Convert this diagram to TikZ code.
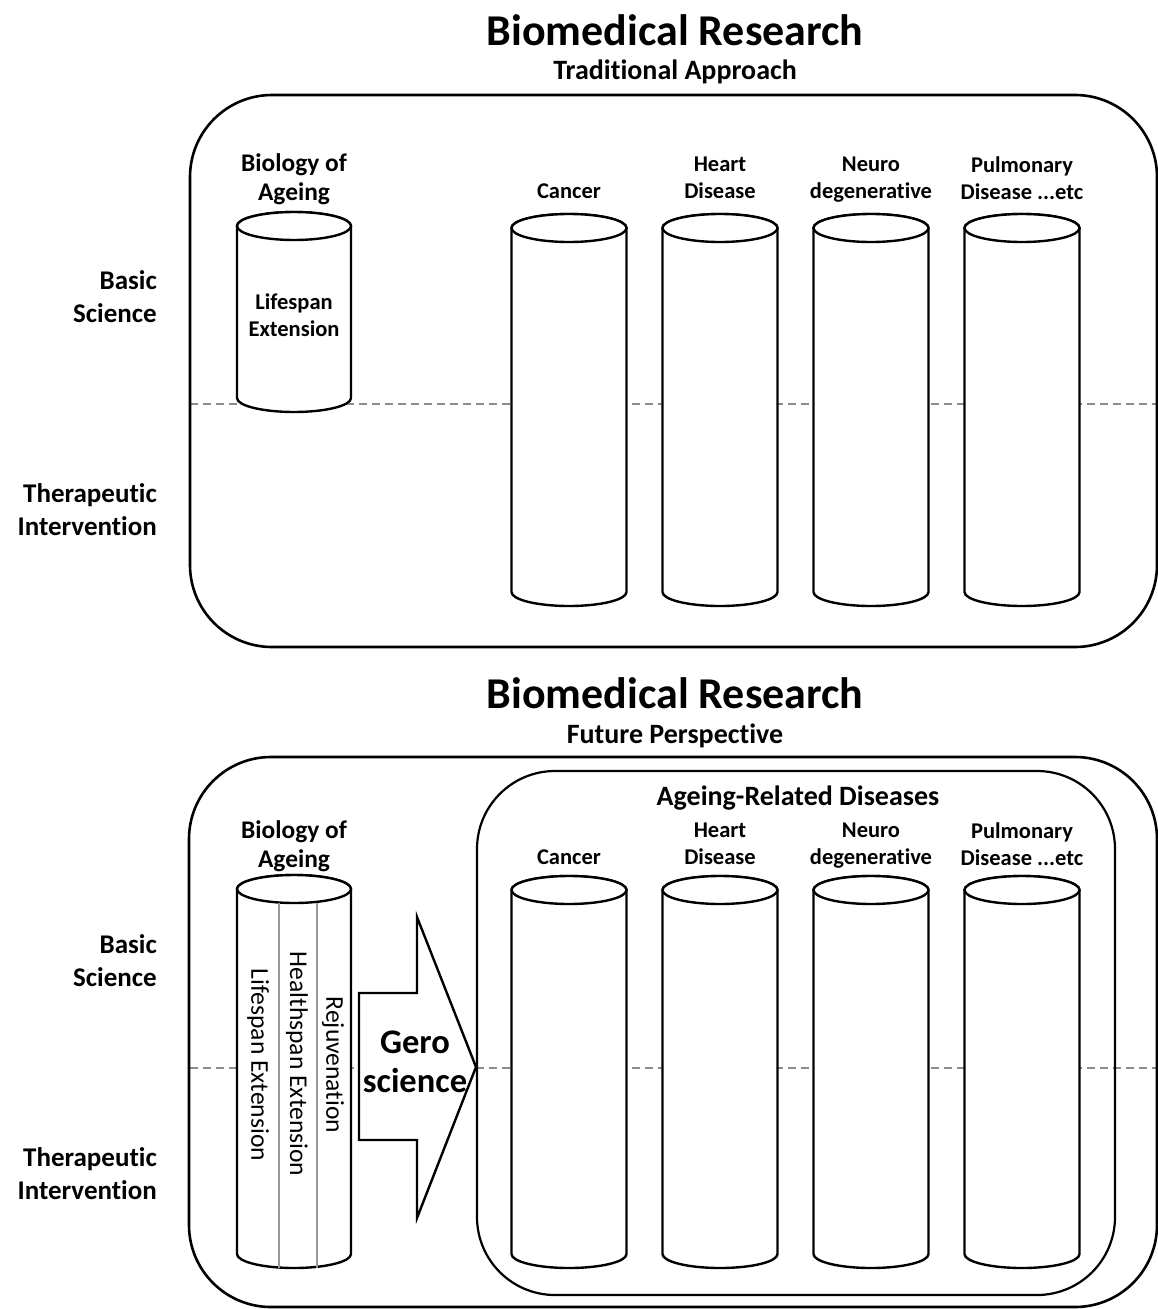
\documentclass[tikz,border=0pt]{standalone}
\usepackage{fontspec}
\setmainfont{Carlito}[Ligatures=NoCommon]
\newcommand\mycyl[5]{%
  \path[cylline] (#2-#5,-#3) -- (#2-#5,-#4)
     arc[start angle=180,end angle=360,x radius=#5pt,y radius=14pt]
     -- (#2+#5,-#3)
     arc[start angle=0,end angle=180,x radius=#5pt,y radius=14pt] -- cycle;
  \draw[cylline] (#2,-#3) ellipse[x radius=#5pt,y radius=14pt];
  \coordinate (#1) at (#2,-#3);}
\begin{document}
\begin{tikzpicture}[x=1pt,y=1pt,
  outerbox/.style={line width=2.6pt, rounded corners=82pt},
  innerbox/.style={line width=2.2pt, rounded corners=78pt},
  cylline/.style={draw=black, line width=2.4pt, fill=white},
  thinline/.style={draw=black!40, line width=1.2pt},
  midline/.style={draw=black!45, line width=1.3pt, dash pattern=on 8pt off 5pt},
  bigtitle/.style={font=\bfseries\fontsize{44}{50}\selectfont},
  subtitle/.style={font=\bfseries\fontsize{28}{32}\selectfont},
  side/.style={font=\bfseries\fontsize{27}{33}\selectfont, align=right, anchor=east, inner sep=0pt},
  col/.style={font=\bfseries\fontsize{22.5}{27}\selectfont, align=center, inner sep=0pt},
  biol/.style={font=\bfseries\fontsize{25.4}{29}\selectfont, align=center, inner sep=0pt},
  grp/.style={font=\bfseries\fontsize{28}{32}\selectfont, inner sep=0pt},
  rot/.style={font=\fontsize{25.6}{28}\selectfont, rotate=-90, inner sep=0pt},
  gero/.style={font=\bfseries\fontsize{34.5}{39}\selectfont, align=center, inner sep=0pt}
]
\useasboundingbox[fill=white] (0,0) rectangle (1158,-1309);

% ---------------- TOP PANEL ----------------
\node[bigtitle] (t1) at (675,-30) {Biomedical Research};
\node[subtitle] (s1) at (675,-72) {Traditional Approach};

\coordinate (d1a) at (190,-404);
\coordinate (d1b) at (1157,-404);
\draw[midline] (d1a) -- (d1b);

\draw[outerbox] (190,-95) rectangle (1157,-647);

\mycyl{bio1}{294}{226}{398}{57}
\mycyl{can1}{569}{228}{592}{57.5}
\mycyl{hea1}{720}{228}{592}{57.5}
\mycyl{neu1}{871}{228}{592}{57.5}
\mycyl{pul1}{1022}{228}{592}{57.5}

\node[biol] (bl1) at (294,-179) {Biology of\\Ageing};
\node[col] (ls1) at (294,-315) {Lifespan\\Extension};
\node[col] (cl1) at (569,-191) {Cancer};
\node[col] (hl1) at (720,-178) {Heart\\Disease};
\node[col] (nl1) at (871,-180) {Neuro\\degenerative};
\node[col] (pl1) at (1022,-178) {Pulmonary\\Disease ...etc};

\node[side] (bs1) at (157,-297) {Basic\\Science};
\node[side] (ti1) at (157,-510) {Therapeutic\\Intervention};

% ---------------- BOTTOM PANEL ----------------
\node[bigtitle] (t2) at (675,-693) {Biomedical Research};
\node[subtitle] (s2) at (675,-736) {Future Perspective};

\coordinate (d2a) at (190,-1068);
\coordinate (d2b) at (1157,-1068);
\draw[midline] (d2a) -- (d2b);

\draw[outerbox] (189,-757) rectangle (1157,-1307);
\draw[innerbox] (477,-771) rectangle (1115,-1295);

\mycyl{bio2}{294}{889}{1254}{57}
\draw[thinline] (279,-902.5) -- (279,-1267.5);
\draw[thinline] (317,-902.5) -- (317,-1267.5);

\mycyl{can2}{569}{890}{1254}{57.5}
\mycyl{hea2}{720}{890}{1254}{57.5}
\mycyl{neu2}{871}{890}{1254}{57.5}
\mycyl{pul2}{1022}{890}{1254}{57.5}

\node[grp] (ard) at (798,-798) {Ageing-Related Diseases};
\node[biol] (bl2) at (294,-846) {Biology of\\Ageing};
\node[col] (cl2) at (569,-857) {Cancer};
\node[col] (hl2) at (720,-844) {Heart\\Disease};
\node[col] (nl2) at (871,-846) {Neuro\\degenerative};
\node[col] (pl2) at (1022,-844) {Pulmonary\\Disease ...etc};

\node[rot] (lse) at (258,-1065) {Lifespan Extension};
\node[rot] (hse) at (297,-1064) {Healthspan Extension};
\node[rot] (rej) at (333,-1065) {Rejuvenation};

\draw[cylline] (359,-993) -- (417,-993) -- (417,-917) -- (476,-1067)
   -- (417,-1218) -- (417,-1140) -- (359,-1140) -- cycle;
\node[gero] (gs) at (415,-1062) {Gero\\science};

\node[side] (bs2) at (157,-961) {Basic\\Science};
\node[side] (ti2) at (157,-1174) {Therapeutic\\Intervention};
\end{tikzpicture}
\end{document}
